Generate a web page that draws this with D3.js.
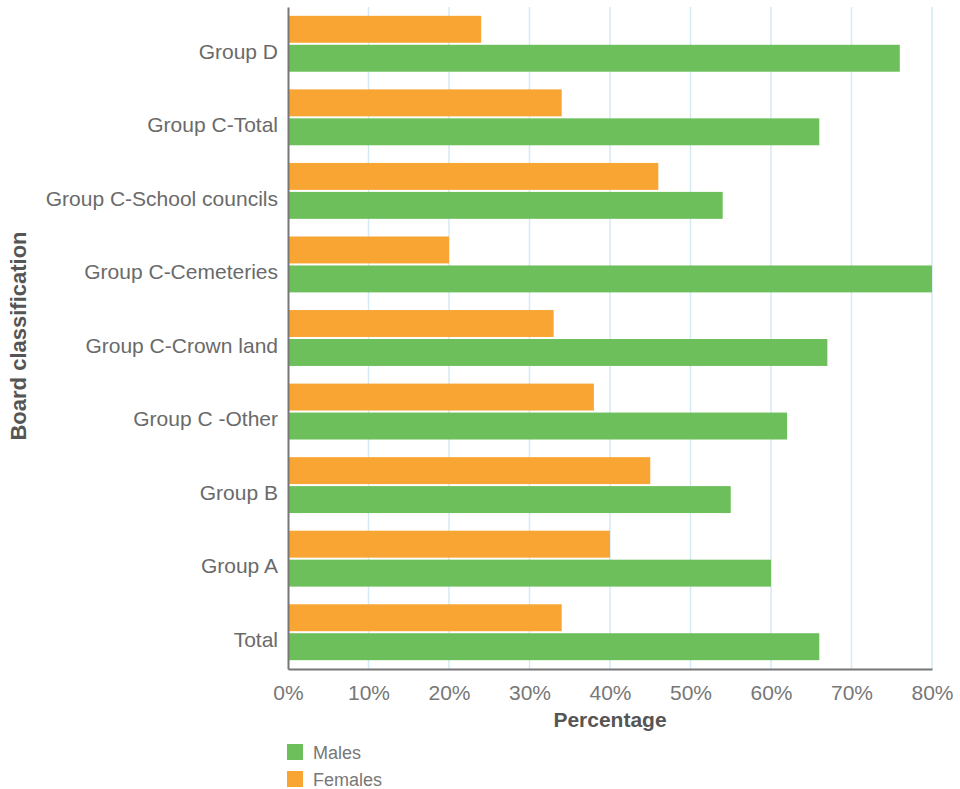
<!DOCTYPE html>
<html><head><meta charset="utf-8">
<script src="https://cdn.jsdelivr.net/npm/d3@7"></script>
<style>
body{margin:0;background:#fff;}
text{font-family:"Liberation Sans",Arial,sans-serif;}
</style></head>
<body><svg id="c" width="960" height="789"></svg>
<script>
const categories = ["Group D","Group C-Total","Group C-School councils","Group C-Cemeteries","Group C-Crown land","Group C -Other","Group B","Group A","Total"];
const females = [24,34,46,20,33,38,45,40,34];
const males = [76,66,54,80,67,62,55,60,66];
const xTicks = [0,10,20,30,40,50,60,70,80];
const seriesNames = ["Males","Females"];
const colors = {Males:"#6dbf5b", Females:"#f9a533"};

(function(){
const svg = d3.select("#c");
const pl = 288, pr = 932, pt = 7, pb = 669;
const x = d3.scaleLinear().domain([0,80]).range([pl,pr]);
const y = d3.scaleBand().domain(categories).range([pt,pb]).paddingInner(0.24).paddingOuter(0.12);
const sub = d3.scaleBand().domain(["Females","Males"]).range([0,y.bandwidth()]).paddingInner(0.07);

svg.append("g").selectAll("line").data(xTicks.filter(d=>d>0)).join("line")
  .attr("x1",d=>x(d)).attr("x2",d=>x(d)).attr("y1",pt).attr("y2",pb)
  .attr("stroke","#d3eaf6").attr("stroke-width",1.5);

const data = categories.map((c,i)=>({c,Females:females[i],Males:males[i]}));
["Females","Males"].forEach(s=>{
  svg.append("g").selectAll("rect").data(data).join("rect")
    .attr("x",x(0)).attr("y",d=>y(d.c)+sub(s))
    .attr("width",d=>x(d[s])-x(0)).attr("height",sub.bandwidth())
    .attr("fill",colors[s]);
});

const xa = svg.append("g").attr("transform",`translate(0,${pb})`)
  .call(d3.axisBottom(x).tickValues(xTicks).tickFormat(d=>d+"%").tickSize(0).tickPadding(16));
xa.select(".domain").attr("stroke","#777").attr("stroke-width",2);
xa.selectAll("text").attr("font-size",21).attr("fill","#777");

const ya = svg.append("g").attr("transform",`translate(${pl},0)`)
  .call(d3.axisLeft(y).tickSize(0).tickPadding(10));
ya.select(".domain").attr("stroke","#777").attr("stroke-width",2);
ya.selectAll("text").attr("font-size",21).attr("fill","#6a6a6a").attr("dy","0.32em").attr("y",8);

svg.append("text").attr("x",(pl+pr)/2).attr("y",727).attr("text-anchor","middle")
  .attr("font-size",21).attr("font-weight","bold").attr("fill","#555").text("Percentage");
svg.append("text").attr("transform",`translate(26,${336}) rotate(-90)`).attr("text-anchor","middle")
  .attr("font-size",22).attr("font-weight","bold").attr("fill","#555").text("Board classification");

const lg = svg.append("g").selectAll("g").data(seriesNames).join("g")
  .attr("transform",(d,i)=>`translate(287,${744+i*27})`);
lg.append("rect").attr("width",16).attr("height",16).attr("fill",d=>colors[d]);
lg.append("text").attr("x",26).attr("y",15).attr("font-size",18).attr("fill","#777").text(d=>d);
})();
</script></body></html>
